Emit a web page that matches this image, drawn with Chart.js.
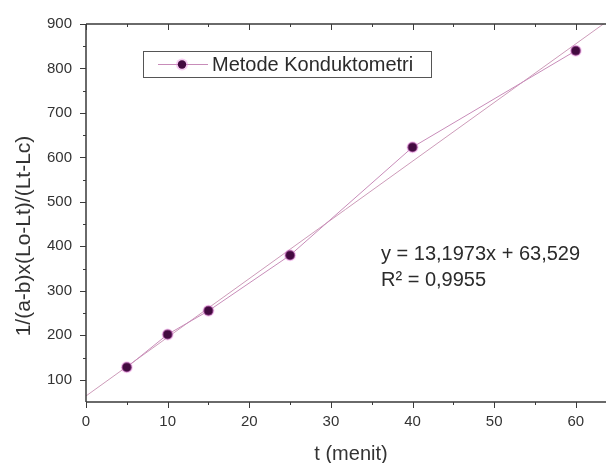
<!DOCTYPE html>
<html>
<head>
<meta charset="utf-8">
<script src="https://cdn.jsdelivr.net/npm/chart.js@4.4.0/dist/chart.umd.min.js"></script>
<style>
  html, body { margin: 0; padding: 0; background: #fff; overflow: hidden; }
  #wrap { width: 606px; height: 463px; }
</style>
</head>
<body>
<div id="wrap"><canvas id="grafik"></canvas></div>
<script>
// data
var waktu = [5, 10, 15, 25, 40, 60];
var nilai = [128, 202, 255, 380, 623, 840];
var labelSeri = 'Metode Konduktometri';

// persamaan regresi yang tertulis di grafik
var slope = 13.1973;
var intercept = 63.529;
var teksPersamaan = 'y = 13,1973x + 63,529';
var teksR2 = 'R\u00B2 = 0,9955';
var judulX = 't (menit)';
var judulY = '1/(a-b)x(Lo-Lt)/(Lt-Lc)';

var xTicks = [0, 10, 20, 30, 40, 50, 60];
var xMinor = [5, 15, 25, 35, 45, 55];
var yTicks = [100, 200, 300, 400, 500, 600, 700, 800, 900];
var yMinor = [150, 250, 350, 450, 550, 650, 750, 850];

var xMin = 0, xMax = 63.7;
var yMin = 50, yMax = 900;

var titikData = waktu.map(function (t, i) { return { x: t, y: nilai[i] }; });
var garisTren = [
    { x: xMin, y: slope * xMin + intercept },
    { x: xMax, y: slope * xMax + intercept }
];

var fontUtama = '"Liberation Sans", Arial, sans-serif';

// sumbu + tick mayor/minor gaya Origin, legenda, judul sumbu
var sumbuPlugin = {
    id: 'sumbu',
    afterDraw: function (chart) {
        var ctx = chart.ctx;
        var a = chart.chartArea;
        var sx = chart.scales.x, sy = chart.scales.y;
        ctx.save();
        ctx.strokeStyle = '#3a3a3a';
        ctx.lineWidth = 1.5;
        ctx.beginPath();
        ctx.moveTo(a.left, a.top); ctx.lineTo(a.left, a.bottom);
        ctx.moveTo(a.left, a.bottom); ctx.lineTo(a.right, a.bottom);
        ctx.moveTo(a.left, a.top); ctx.lineTo(a.right, a.top);
        ctx.stroke();
        ctx.lineWidth = 1;
        ctx.beginPath();
        xTicks.forEach(function (v) {
            var px = Math.round(sx.getPixelForValue(v)) + 0.5;
            ctx.moveTo(px, a.bottom); ctx.lineTo(px, a.bottom + 6);
            ctx.moveTo(px, a.top); ctx.lineTo(px, a.top + 6);
        });
        xMinor.forEach(function (v) {
            var px = Math.round(sx.getPixelForValue(v)) + 0.5;
            ctx.moveTo(px, a.bottom); ctx.lineTo(px, a.bottom + 3);
            ctx.moveTo(px, a.top); ctx.lineTo(px, a.top + 3);
        });
        yTicks.forEach(function (v) {
            var py = Math.round(sy.getPixelForValue(v)) + 0.5;
            ctx.moveTo(a.left - 6, py); ctx.lineTo(a.left, py);
        });
        yMinor.forEach(function (v) {
            var py = Math.round(sy.getPixelForValue(v)) + 0.5;
            ctx.moveTo(a.left - 3, py); ctx.lineTo(a.left, py);
        });
        ctx.stroke();

        // legenda dalam kotak
        var lx = 143, ly = 51, lw = 288, lh = 26;
        ctx.strokeStyle = '#555';
        ctx.lineWidth = 1;
        ctx.strokeRect(lx + 0.5, ly + 0.5, lw, lh);
        var cy = ly + lh / 2 + 0.5;
        ctx.strokeStyle = 'rgb(200,140,185)';
        ctx.beginPath();
        ctx.moveTo(lx + 15, cy); ctx.lineTo(lx + 65, cy);
        ctx.stroke();
        ctx.fillStyle = 'rgba(235,140,225,0.45)';
        ctx.beginPath(); ctx.arc(lx + 39, cy, 6, 0, Math.PI * 2); ctx.fill();
        ctx.fillStyle = '#430a40';
        ctx.beginPath(); ctx.arc(lx + 39, cy, 4.2, 0, Math.PI * 2); ctx.fill();
        ctx.fillStyle = '#2b2b2b';
        ctx.font = '20px ' + fontUtama;
        ctx.textBaseline = 'middle';
        ctx.textAlign = 'left';
        ctx.fillText(labelSeri, lx + 69, cy + 1);

        // persamaan regresi
        ctx.font = '20px ' + fontUtama;
        ctx.fillText(teksPersamaan, 381, 254);
        ctx.fillText(teksR2, 381, 280);

        // judul sumbu
        ctx.fillStyle = '#333';
        ctx.textAlign = 'center';
        ctx.fillText(judulX, 351, 454);
        ctx.translate(24, 236);
        ctx.rotate(-Math.PI / 2);
        ctx.font = '21px ' + fontUtama;
        ctx.fillText(judulY, 0, 0);
        ctx.restore();
    }
};

var config = {
    type: 'scatter',
    data: {
        datasets: [{
            label: labelSeri,
            data: titikData,
            showLine: true,
            borderColor: 'rgb(200,140,185)',
            borderWidth: 1,
            backgroundColor: '#430a40',
            pointBorderColor: 'rgba(235,140,225,0.45)',
            pointBorderWidth: 2,
            pointRadius: 5,
            pointHoverRadius: 5,
            order: 1
        }, {
            label: 'Linear',
            data: garisTren,
            showLine: true,
            borderColor: 'rgb(205,155,185)',
            borderWidth: 1,
            pointRadius: 0,
            order: 2
        }]
    },
    options: {
        responsive: true,
        maintainAspectRatio: false,
        animation: false,
        layout: { autoPadding: false, padding: { top: 24, right: 0, left: 0, bottom: 0 } },
        plugins: {
            legend: { display: false },
            tooltip: { enabled: false }
        },
        scales: {
            x: {
                type: 'linear',
                min: xMin,
                max: xMax,
                grid: { display: false, drawTicks: false },
                border: { display: false },
                afterBuildTicks: function (s) { s.ticks = xTicks.map(function (v) { return { value: v }; }); },
                afterFit: function (s) { s.height = 61; s.paddingLeft = 0; s.paddingRight = 0; },
                ticks: {
                    padding: 11,
                    color: '#333',
                    font: { family: fontUtama, size: 15 },
                    maxRotation: 0
                }
            },
            y: {
                type: 'linear',
                min: yMin,
                max: yMax,
                grid: { display: false, drawTicks: false },
                border: { display: false },
                afterBuildTicks: function (s) { s.ticks = yTicks.map(function (v) { return { value: v }; }); },
                afterFit: function (s) { s.width = 86; s.paddingTop = 0; s.paddingBottom = 0; },
                ticks: {
                    padding: 14,
                    color: '#333',
                    font: { family: fontUtama, size: 15 }
                }
            }
        }
    },
    plugins: [sumbuPlugin]
};

var chart = new Chart(document.getElementById('grafik'), config);
</script>
</body>
</html>
